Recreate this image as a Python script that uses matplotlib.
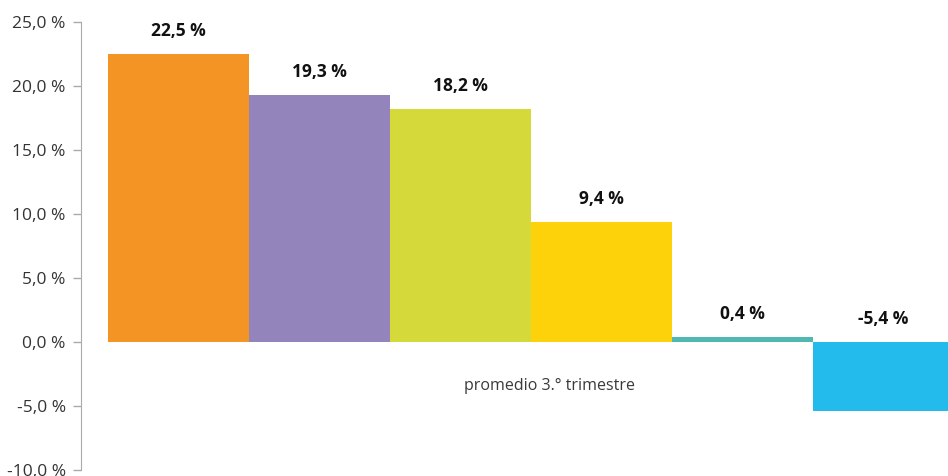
import matplotlib.pyplot as plt

# Variación interanual por categoría
categories = ["A", "B", "C", "D", "E", "F"]
values = [22.5, 19.3, 18.2, 9.4, 0.4, -5.4]
colors = ["#F39425", "#9384BC", "#D5DA3A", "#FDD20A", "#50B8B1", "#22BBEC"]
yticks = [-10, -5, 0, 5, 10, 15, 20, 25]
note = "promedio 3.° trimestre"

plt.rcParams['font.family'] = ['Open Sans', 'DejaVu Sans']

fig = plt.figure(figsize=(9.48, 4.76), dpi=100)
ax = fig.add_axes([81 / 948, 1 - 470 / 476, 1 - 81 / 948, (470 - 22) / 476])

x = list(range(len(values)))
ax.bar(x, values, width=1.0, align='edge', color=colors, linewidth=0)

for xi, v in zip(x, values):
    lbl = f"{v:.1f} %".replace(".", ",")
    ax.annotate(lbl, (xi + 0.5, max(v, 0)), xytext=(0, 14), textcoords='offset pixels',
                ha='center', va='bottom', fontsize=12.5, fontweight='bold', color='#111111')

ax.text(3.13, -3.4, note, ha='center', va='center', fontsize=11.5, color='#3a3a3a')

ax.set_ylim(-10, 25)
ax.set_xlim(-0.19, 5.96)
ax.set_yticks(yticks)
ax.set_yticklabels([f"{t:.1f} %".replace(".", ",") for t in yticks])
ax.tick_params(axis='y', length=6, width=1, color='#AAAAAA', labelsize=12.5,
               labelcolor='#333333', pad=5)
ax.set_xticks([])

for s in ['top', 'right', 'bottom']:
    ax.spines[s].set_visible(False)
ax.spines['left'].set_color('#AAAAAA')

fig.savefig("out.png", dpi=100)
